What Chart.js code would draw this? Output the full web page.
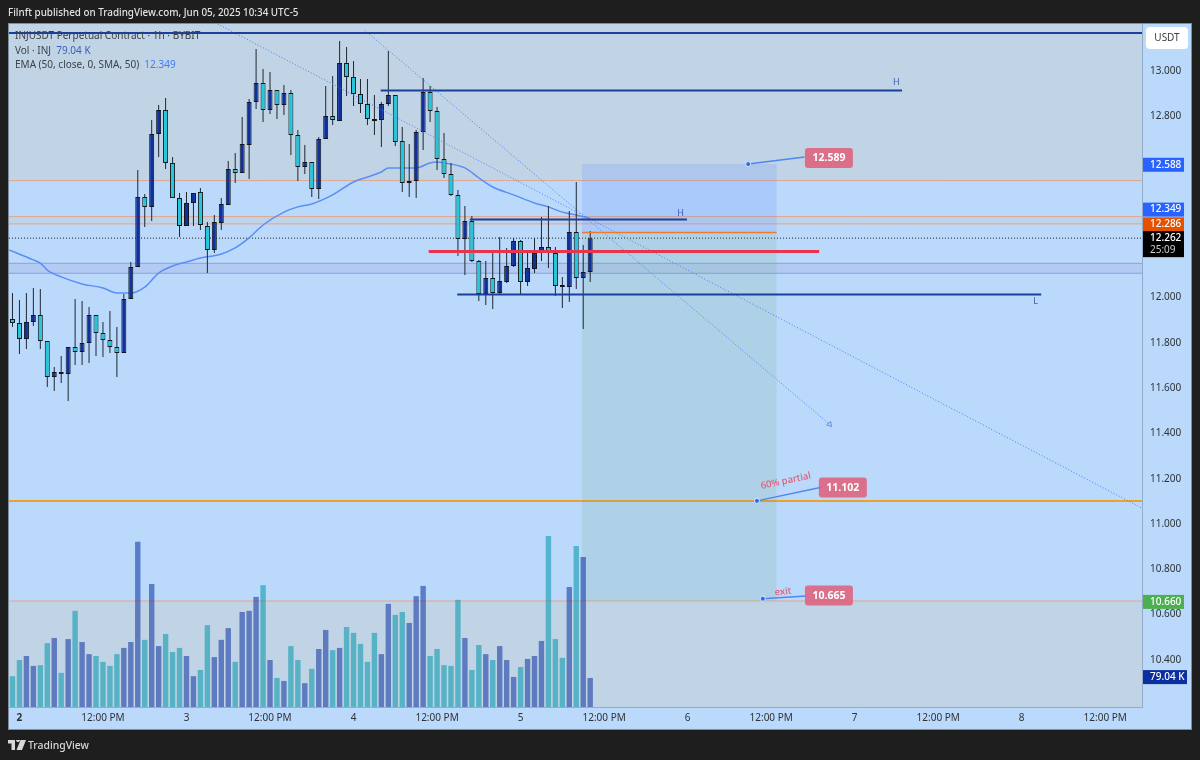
<!DOCTYPE html>
<html>
<head>
<meta charset="utf-8">
<script src="https://cdn.jsdelivr.net/npm/chart.js@4"></script>
<style>
  html, body { margin: 0; padding: 0; background: #1e1e1e; width: 1200px; height: 760px; overflow: hidden; font-family: "Noto Sans", sans-serif; }
  #frame { position: absolute; left: 8px; top: 23px; width: 1182px; height: 705px; background: #bbd9fb; border: 1px solid #7d8d9c; }
  #chart { position: absolute; left: 0; top: 0; }
  #published { position: absolute; left: 8px; top: 5px; color: #e2e2e2; font-size: 9.85px; font-weight: 500; line-height: 14px; }
  .legend { position: absolute; left: 15px; color: #3c4248; font-size: 10px; line-height: 12px; white-space: pre; }
  #brand { position: absolute; left: 28px; top: 738px; color: #d8d8d8; font-size: 10.4px; font-weight: 500; line-height: 14px; }
  #logo { position: absolute; left: 8px; top: 740px; }
</style>
</head>
<body>
<div id="frame"></div>
<canvas id="chart" width="1200" height="760"></canvas>
<div id="published">Filnft published on TradingView.com, Jun 05, 2025 10:34 UTC-5</div>
<div class="legend" style="top:29px">INJUSDT Perpetual Contract · 1h · BYBIT</div>
<div class="legend" style="top:44px">Vol · INJ  <span style="color:#3b5fb5">79.04 K</span></div>
<div class="legend" style="top:58px">EMA (50, close, 0, SMA, 50)  <span style="color:#3f7cf5">12.349</span></div>
<svg id="logo" width="18" height="10" viewBox="0 0 36 20"><path fill="#d8d8d8" d="M0 0h14v20H7V7H0zM16 0a4 4 0 1 1 0 .01zM25 0h11l-8 20H17z"/></svg>
<div id="brand">TradingView</div>

<script>
// hourly candles, index 0 is Jun 2 00:00, first candle is one hour before it
const candleOpen = [11.905, 11.887, 11.817, 11.892, 11.923, 11.808, 11.649, 11.671, 11.662, 11.781, 11.759, 11.799,
  11.923, 11.843, 11.812, 11.781, 11.755, 11.993, 12.135, 12.444, 12.400, 12.722, 12.828, 12.594,
  12.439, 12.316, 12.417, 12.466, 12.316, 12.210, 12.329, 12.408, 12.567, 12.550, 12.673, 12.863,
  12.947, 12.828, 12.916, 12.850, 12.903, 12.717, 12.576, 12.598, 12.479, 12.700, 12.801, 12.779,
  13.035, 12.974, 12.898, 12.854, 12.788, 12.784, 12.854, 12.894, 12.691, 12.506, 12.514, 12.731,
  12.907, 12.823, 12.611, 12.545, 12.453, 12.258, 12.338, 12.161, 12.015, 12.086, 12.020, 12.068,
  12.139, 12.249, 12.068, 12.126, 12.196, 12.223, 12.196, 12.055, 12.046, 12.289, 12.086, 12.113];
const candleHigh = [12.020, 11.989, 12.020, 12.042, 12.038, 11.808, 11.693, 11.742, 11.781, 11.993, 11.985, 11.958,
  11.923, 11.892, 11.940, 11.870, 12.015, 12.157, 12.563, 12.457, 12.784, 12.850, 12.881, 12.620,
  12.461, 12.466, 12.461, 12.483, 12.333, 12.364, 12.439, 12.603, 12.638, 12.797, 12.876, 13.097,
  13.009, 12.996, 12.916, 12.938, 12.916, 12.740, 12.673, 12.598, 12.709, 12.934, 12.978, 13.132,
  13.106, 13.044, 12.965, 12.965, 12.894, 12.863, 13.088, 12.894, 12.753, 12.678, 12.740, 12.969,
  12.934, 12.841, 12.726, 12.594, 12.475, 12.404, 12.360, 12.166, 12.161, 12.196, 12.267, 12.219,
  12.263, 12.254, 12.196, 12.263, 12.355, 12.404, 12.223, 12.090, 12.382, 12.510, 12.232, 12.294];
const candleLow = [11.870, 11.751, 11.773, 11.874, 11.773, 11.605, 11.587, 11.622, 11.543, 11.702, 11.702, 11.711,
  11.742, 11.737, 11.755, 11.649, 11.755, 11.993, 12.135, 12.311, 12.338, 12.620, 12.567, 12.439,
  12.267, 12.316, 12.316, 12.298, 12.108, 12.196, 12.298, 12.408, 12.506, 12.550, 12.523, 12.832,
  12.775, 12.810, 12.788, 12.806, 12.629, 12.514, 12.545, 12.444, 12.435, 12.700, 12.762, 12.779,
  12.890, 12.845, 12.815, 12.762, 12.717, 12.664, 12.845, 12.669, 12.466, 12.444, 12.439, 12.651,
  12.775, 12.563, 12.528, 12.448, 12.183, 12.099, 12.157, 11.985, 11.967, 11.949, 12.015, 12.064,
  12.135, 12.015, 12.051, 12.108, 12.161, 12.130, 12.007, 11.954, 11.980, 12.038, 11.861, 12.068];
const candleClose = [11.887, 11.817, 11.892, 11.923, 11.808, 11.649, 11.671, 11.662, 11.781, 11.759, 11.799, 11.923,
  11.843, 11.812, 11.781, 11.755, 11.993, 12.135, 12.444, 12.400, 12.722, 12.828, 12.594, 12.439,
  12.316, 12.417, 12.461, 12.320, 12.210, 12.333, 12.413, 12.567, 12.550, 12.678, 12.863, 12.947,
  12.828, 12.916, 12.850, 12.903, 12.717, 12.576, 12.598, 12.479, 12.700, 12.801, 12.784, 13.035,
  12.974, 12.898, 12.854, 12.788, 12.779, 12.854, 12.894, 12.687, 12.506, 12.514, 12.731, 12.907,
  12.823, 12.611, 12.545, 12.453, 12.258, 12.338, 12.161, 12.015, 12.086, 12.020, 12.073, 12.139,
  12.249, 12.068, 12.130, 12.196, 12.223, 12.196, 12.051, 12.046, 12.289, 12.086, 12.113, 12.262];

// volume in thousands, same hours as the candles
const volumeK = [84, 128, 139, 112, 114, 174, 188, 93, 185, 262, 177, 144,
  139, 123, 112, 144, 161, 177, 450, 183, 335, 166, 199, 150,
  161, 139, 84, 101, 223, 136, 183, 215, 123, 259, 262, 300,
  332, 128, 79, 71, 166, 128, 65, 104, 158, 210, 155, 161,
  218, 202, 172, 123, 202, 144, 281, 251, 259, 229, 302, 330,
  139, 158, 114, 112, 292, 188, 101, 169, 144, 128, 166, 128,
  82, 109, 131, 139, 180, 466, 185, 134, 327, 439, 409, 79.04];

const emaHours = [-1.5, 2, 3, 4, 6, 9, 12, 14, 16, 18, 20, 22, 24, 26, 29, 31, 33, 35, 38, 40,
  42, 45, 48, 50, 52, 53, 55, 57, 59, 60, 61, 64, 66, 68, 71, 74, 76, 78, 80, 82];
const emaValues = [12.210, 12.166, 12.152, 12.121, 12.091, 12.060, 12.042, 12.020, 12.020, 12.046, 12.108, 12.139, 12.157, 12.174, 12.192, 12.219, 12.263, 12.320, 12.377, 12.400,
  12.413, 12.453, 12.510, 12.532, 12.554, 12.572, 12.572, 12.572, 12.594, 12.598, 12.594, 12.572, 12.528, 12.488, 12.453, 12.417, 12.400, 12.377, 12.364, 12.349];

const priceTicks = [13.0, 12.8, 12.0, 11.8, 11.6, 11.4, 11.2, 11.0, 10.8, 10.6, 10.4];
const timeTicks = [0, 12, 24, 36, 48, 60, 72, 84, 96, 108, 120, 132, 144, 156];
const timeLabels = ['2', '12:00 PM', '3', '12:00 PM', '4', '12:00 PM', '5', '12:00 PM', '6', '12:00 PM', '7', '12:00 PM', '8', '12:00 PM'];

const hourMin = -1.5;
const hourMax = 161.28;
const priceMin = 10.192;
const priceMax = 13.2075;

// levels that run across the whole chart
const thinLevels = [12.516, 12.357, 12.325, 10.66];
const lastPrice = 12.262;
const partialLevel = 11.102;
const topLevel = 13.168;
const blueBand = [12.151, 12.107];

// drawn segments: from hour, to hour, price
const navySegments = [[51.9, 126.8, 12.914], [64.7, 95.9, 12.344], [62.9, 146.8, 12.013]];
const redSegment = [58.8, 114.9, 12.203];
const entrySegment = [80.8, 108.8, 12.287];
const boxHours = [80.8, 108.8];
const boxStop = 12.589;
const boxTarget = 10.66;

const trendHours = [[28.5, 161.28], [49.6, 116.4]];
const trendPrices = [[13.2075, 11.07], [13.18, 11.44]];

const calloutHours = [[104.7, 112.8], [105.96, 115.4], [106.8, 113]];
const calloutPrices = [[12.589, 12.62], [11.102, 11.163], [10.67, 10.682]];

Chart.defaults.font.family = '"Noto Sans", sans-serif';

function flatLine(x1, x2, price, color, width, order, extra) {
  return Object.assign({
    type: 'line',
    data: [{ x: x1, y: price }, { x: x2, y: price }],
    borderColor: color,
    borderWidth: width,
    pointRadius: 0,
    fill: false,
    order: order
  }, extra || {});
}

var hours = candleOpen.map(function(v, i) { return i - 1; });
var isUp = candleOpen.map(function(v, i) { return candleClose[i] >= v; });

var datasets = [];

// grey parts of the background
datasets.push(flatLine(hourMin, hourMax, thinLevels[0], 'transparent', 0, 30, { fill: { value: priceMax + 1 }, backgroundColor: '#c1d4e6' }));
datasets.push(flatLine(hourMin, hourMax, thinLevels[3], 'transparent', 0, 30, { fill: { value: priceMin - 1 }, backgroundColor: '#c1d4e6' }));
datasets.push(flatLine(hourMin, hourMax, thinLevels[2], 'transparent', 0, 30, { fill: { value: thinLevels[1] }, backgroundColor: '#c1d4e6' }));
datasets.push(flatLine(hourMin, hourMax, blueBand[1], 'transparent', 0, 30, { fill: { value: blueBand[0] }, backgroundColor: '#b3cbf3' }));

thinLevels.forEach(function(p) {
  datasets.push(flatLine(hourMin, hourMax, p, '#e3a48e', 1, 28));
});
blueBand.forEach(function(p) {
  datasets.push(flatLine(hourMin, hourMax, p, '#8f9fdc', 1, 28));
});
datasets.push(flatLine(hourMin, hourMax, lastPrice, '#222222', 1, 28, { borderDash: [1, 2] }));
datasets.push(flatLine(hourMin, hourMax, partialLevel, '#ee9f2e', 2, 28));
datasets.push(flatLine(hourMin, hourMax, topLevel, '#1c3f9c', 2, 6));

// short position box
datasets.push(flatLine(boxHours[0], boxHours[1], entrySegment[2], 'transparent', 0, 26, { fill: { value: boxStop }, backgroundColor: 'rgba(41,98,255,0.12)' }));
datasets.push(flatLine(boxHours[0], boxHours[1], entrySegment[2], 'transparent', 0, 26, { fill: { value: boxTarget }, backgroundColor: 'rgba(100,170,120,0.15)' }));

datasets.push({
  type: 'bar',
  yAxisID: 'yVol',
  grouped: false,
  data: volumeK.map(function(v, i) { return { x: hours[i], y: v }; }),
  backgroundColor: isUp.map(function(u) { return u ? 'rgba(13,50,160,0.55)' : 'rgba(0,150,170,0.55)'; }),
  barThickness: 5.4,
  inflateAmount: 0,
  order: 24
});

datasets.push({
  type: 'line',
  data: emaValues.map(function(v, i) { return { x: emaHours[i], y: v }; }),
  borderColor: '#5b8ef5',
  borderWidth: 1.5,
  pointRadius: 0,
  cubicInterpolationMode: 'monotone',
  fill: false,
  order: 14
});

// wicks then bodies
datasets.push({
  type: 'bar',
  grouped: false,
  data: hours.map(function(h, i) { return { x: h, y: [candleLow[i], candleHigh[i]] }; }),
  backgroundColor: '#1f2730',
  barThickness: 1,
  inflateAmount: 0,
  order: 12
});
datasets.push({
  type: 'bar',
  grouped: false,
  data: hours.map(function(h, i) { return { x: h, y: [candleOpen[i], candleClose[i]] }; }),
  backgroundColor: isUp.map(function(u) { return u ? '#10319b' : '#25c6da'; }),
  borderColor: '#10161c',
  borderWidth: 1,
  borderSkipped: false,
  barThickness: 5,
  inflateAmount: 0,
  order: 11
});

// trend lines, the second one ends in a small arrow
trendHours.forEach(function(t, i) {
  datasets.push({
    type: 'line',
    data: [{ x: t[0], y: trendPrices[i][0] }, { x: t[1], y: trendPrices[i][1] }],
    borderColor: '#4a80f0',
    borderWidth: 1,
    borderDash: [1, 2],
    pointRadius: i == 1 ? [0, 3] : 0,
    pointStyle: 'triangle',
    pointRotation: 140,
    pointBackgroundColor: 'transparent',
    pointBorderColor: '#5b8ef5',
    pointBorderWidth: 1,
    fill: false,
    order: 8
  });
});

navySegments.forEach(function(s) {
  datasets.push(flatLine(s[0], s[1], s[2], '#1c3f9c', 2, 6));
});
datasets.push(flatLine(redSegment[0], redSegment[1], redSegment[2], '#e8354e', 3, 4));
datasets.push(flatLine(entrySegment[0], entrySegment[1], entrySegment[2], '#ef7a2a', 1.5, 5));

calloutHours.forEach(function(c, i) {
  datasets.push({
    type: 'line',
    data: [{ x: c[0], y: calloutPrices[i][0] }, { x: c[1], y: calloutPrices[i][1] }],
    borderColor: '#4f87f0',
    borderWidth: 1.5,
    pointRadius: [2.5, 0],
    pointBackgroundColor: '#2f6ae8',
    pointBorderColor: '#d5e6fb',
    pointBorderWidth: 1,
    fill: false,
    order: 3
  });
});

// labels placed on the drawing, hour and price of the text centre
const pinkTags = [['12.589', 116.3, 12.616], ['11.102', 118.3, 11.161], ['10.665', 116.3, 10.684]];
const sideTags = [
  ['12.588', 12.586, '#2962ff'],
  ['12.349', 12.388, '#2962ff'],
  ['12.286', 12.323, '#e65100'],
  ['10.660', 10.656, '#4caf50'],
  ['79.04 K', 10.324, '#0b2f9f']
];

var annotations = {
  id: 'annotations',
  afterDraw: function(chart) {
    var ctx = chart.ctx;
    var x = chart.scales.x;
    var y = chart.scales.y;
    ctx.save();
    ctx.textBaseline = 'middle';
    ctx.textAlign = 'center';

    // drawing labels
    ctx.fillStyle = '#3a5fb5';
    ctx.font = '9px "Noto Sans"';
    ctx.fillText('H', x.getPixelForValue(126), y.getPixelForValue(12.95));
    ctx.fillText('H', x.getPixelForValue(95), y.getPixelForValue(12.372));
    ctx.fillText('L', x.getPixelForValue(146), y.getPixelForValue(11.982));

    ctx.fillStyle = '#e05a72';
    ctx.font = '500 9.5px "Noto Sans"';
    [['60% partial', 110.1, 11.19, -0.21], ['exit', 109.7, 10.7, -0.12]].forEach(function(t) {
      ctx.save();
      ctx.translate(x.getPixelForValue(t[1]), y.getPixelForValue(t[2]));
      ctx.rotate(t[3]);
      ctx.fillText(t[0], 0, 0);
      ctx.restore();
    });

    pinkTags.forEach(function(t) {
      var cx = x.getPixelForValue(t[1]);
      var cy = y.getPixelForValue(t[2]);
      ctx.fillStyle = 'rgba(222,100,128,0.9)';
      ctx.beginPath();
      ctx.roundRect(cx - 24, cy - 10, 48, 20, 3);
      ctx.fill();
      ctx.fillStyle = '#ffffff';
      ctx.font = '700 10.5px "Noto Sans"';
      ctx.fillText(t[0], cx, cy);
    });

    // price axis tags
    ctx.textAlign = 'left';
    sideTags.forEach(function(t) {
      var cy = y.getPixelForValue(t[1]);
      var w = t[0].length > 6 ? 44 : 41;
      ctx.fillStyle = t[2];
      ctx.fillRect(1143, cy - 7, w, 14);
      ctx.fillStyle = '#ffffff';
      ctx.font = '500 10px "Noto Sans"';
      ctx.fillText(t[0], 1150, cy);
    });
    ctx.fillStyle = '#000000';
    ctx.fillRect(1143, y.getPixelForValue(lastPrice) - 7, 41, 26);
    ctx.fillStyle = '#ffffff';
    ctx.fillText(lastPrice.toFixed(3), 1150, y.getPixelForValue(lastPrice));
    ctx.fillStyle = '#cccccc';
    ctx.font = '10px "Noto Sans"';
    ctx.fillText('25:09', 1150, y.getPixelForValue(lastPrice) + 12);

    ctx.fillStyle = '#ffffff';
    ctx.beginPath();
    ctx.roundRect(1146, 27, 42, 22, 4);
    ctx.fill();
    ctx.fillStyle = '#3a4048';
    ctx.textAlign = 'center';
    ctx.fillText('USDT', 1167, 38);
    ctx.restore();
  }
};

new Chart(document.getElementById('chart'), {
  type: 'bar',
  data: { datasets: datasets },
  plugins: [annotations],
  options: {
    responsive: false,
    animation: false,
    layout: { autoPadding: false, padding: { left: 9, top: 24, right: 9, bottom: 31 } },
    plugins: { legend: { display: false }, tooltip: { enabled: false }, title: { display: false } },
    scales: {
      x: {
        type: 'linear',
        min: hourMin,
        max: hourMax,
        offset: false,
        grid: { display: false, drawTicks: false },
        border: { display: true, color: '#92abc9' },
        afterBuildTicks: function(scale) {
          scale.ticks = timeTicks.map(function(v) { return { value: v }; });
        },
        afterFit: function(scale) { scale.height = 22; },
        ticks: {
          autoSkip: false,
          maxRotation: 0,
          padding: 5,
          color: '#2e3339',
          font: function(c) {
            return { size: 10, weight: c.tick && c.tick.value == 0 ? 'bold' : 'normal' };
          },
          callback: function(value) { return timeLabels[timeTicks.indexOf(value)]; }
        }
      },
      y: {
        type: 'linear',
        position: 'right',
        min: priceMin,
        max: priceMax,
        grid: { display: false, drawTicks: false },
        border: { display: true, color: '#92abc9' },
        afterBuildTicks: function(scale) {
          scale.ticks = priceTicks.map(function(v) { return { value: v }; });
        },
        afterFit: function(scale) { scale.width = 49; },
        ticks: {
          padding: 8,
          color: '#2e3339',
          font: { size: 10 },
          callback: function(value) { return value.toFixed(3); }
        }
      },
      yVol: {
        type: 'linear',
        display: false,
        min: 0,
        max: 1861
      }
    }
  }
});
</script>
</body>
</html>
